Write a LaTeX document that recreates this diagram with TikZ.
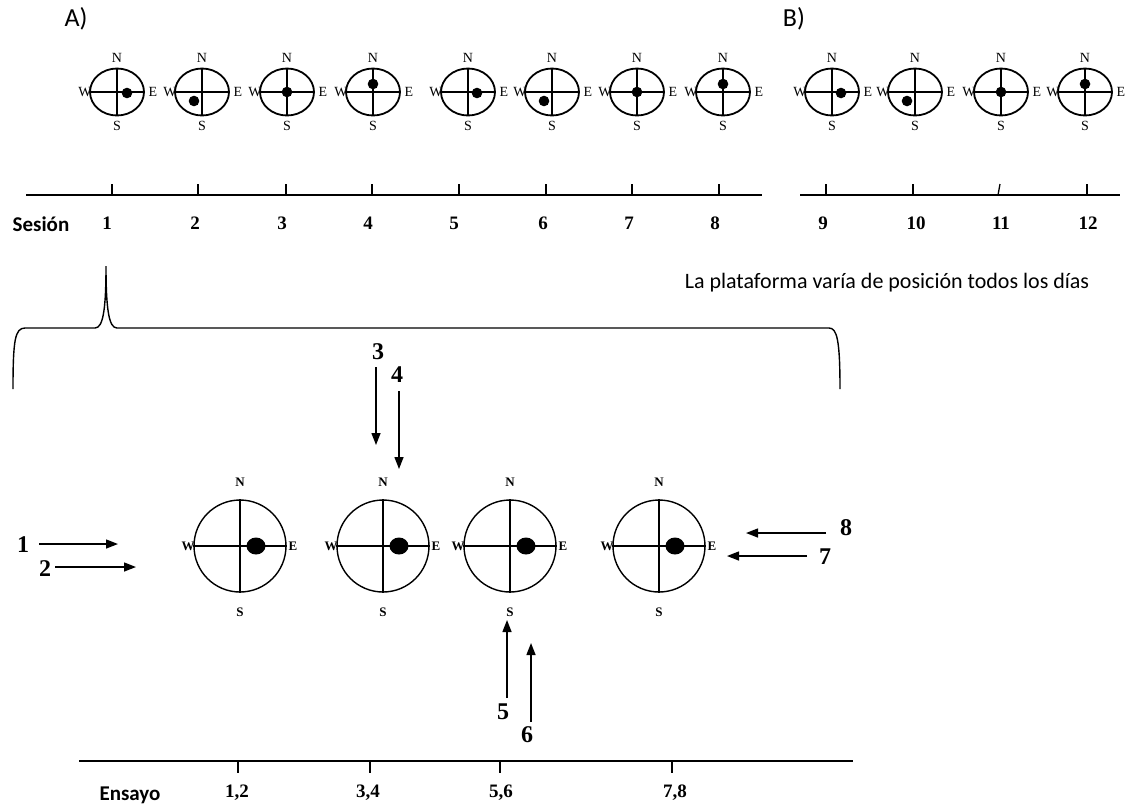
\documentclass[tikz,border=0pt]{standalone}
\usepackage{fontspec}
\setmainfont{Liberation Serif}
\newfontfamily\calfont{Carlito}
\usetikzlibrary{shapes.geometric,arrows.meta}
\newcommand\scompass[4]{%
  \node[scomp] (#1) at (#2,92) {};
  \draw[sline] (#1.north) -- (#1.south) (#1.west) -- (#1.east);
  \fill ([shift={(#3,#4)}]#1.center) circle (5.3);
  \node[slab] (#1N) at (#2,58) {N};
  \node[slab] (#1S) at (#2,126) {S};
  \node[slab] (#1W) at (#2-32,92) {W};
  \node[slab] (#1E) at (#2+36,92) {E};
}
\newcommand\bcompass[2]{%
  \node[bcomp] (#1) at (#2,546) {};
  \draw[bline] (#1.north) -- (#1.south) (#1.west) -- (#1.east);
  \fill ([xshift=16pt]#1.center) ellipse [x radius=9.5, y radius=8.5];
  \node[blab] (#1N) at (#2,482) {N};
  \node[blab] (#1S) at (#2,612) {S};
  \node[blab] (#1W) at (#2-52,546) {W};
  \node[blab] (#1E) at (#2+53,546) {E};
}
\begin{document}
\begin{tikzpicture}[x=1pt,y=-1pt,
  scomp/.style={ellipse,draw,line width=1.8pt,minimum width=54pt,minimum height=47pt,inner sep=0pt},
  sline/.style={line width=1.8pt},
  bcomp/.style={circle,draw,line width=1.4pt,minimum size=92pt,inner sep=0pt},
  bline/.style={line width=1.4pt},
  slab/.style={font=\fontsize{14}{14}\selectfont,inner sep=0pt},
  blab/.style={font=\bfseries\fontsize{13}{13}\selectfont,inner sep=0pt},
  num/.style={font=\bfseries\fontsize{19}{19}\selectfont,inner sep=0pt},
  anum/.style={font=\bfseries\fontsize{24}{24}\selectfont,inner sep=0pt},
  sanslab/.style={font=\calfont\fontsize{22}{22}\selectfont,inner sep=0pt},
  sansbold/.style={font=\calfont\bfseries\fontsize{21}{21}\selectfont,inner sep=0pt},
  axis/.style={line width=1.5pt},
  tick/.style={line width=1.3pt},
  arr/.style={line width=1.4pt,-{Triangle[length=12pt,width=9pt]}},
  brace/.style={line width=1.4pt},
]
\useasboundingbox (0,0) rectangle (1126,807);

% headings
\node[font=\calfont\fontsize{26}{26}\selectfont,inner sep=0pt] (hA) at (76,19) {A)};
\node[font=\calfont\fontsize{26}{26}\selectfont,inner sep=0pt] (hB) at (794,19) {B)};

% small compasses
\scompass{c1}{117}{10}{1}
\scompass{c2}{202}{-8}{9}
\scompass{c3}{287}{0}{0}
\scompass{c4}{373}{0}{-8}
\scompass{c5}{468}{9}{1}
\scompass{c6}{552}{-8}{9}
\scompass{c7}{637}{0}{0}
\scompass{c8}{723}{0}{-8}
\scompass{c9}{832}{9}{1}
\scompass{c10}{915}{-8}{9}
\scompass{c11}{1001}{0}{0}
\scompass{c12}{1085}{0}{-8}

% session axis
\draw[axis] (26,195) -- (762,195);
\draw[axis] (800,195) -- (1120,195);
\foreach \t in {112,198,286,372,459,546,632,719,826,913,1087}
  \draw[tick] (\t,195) -- (\t,184);
\draw[tick] (998,195) -- (1000,184);
\node[sansbold] (ses) at (41,224) {Sesión};
\foreach \n/\x in {1/107,2/195,3/282,4/368,5/454,6/543,7/629,8/715,9/823,10/916,11/1001,12/1088}
  \node[num] (s\n) at (\x,223) {\n};

\node[sanslab] (plat) at (887,283) {La plataforma varía de posición todos los días};

% brace
\draw[brace] (13,389) .. controls (13,340) and (15,328) .. (25,328) -- (95,328)
  .. controls (103,328) and (106,310) .. (106,266)
  .. controls (106,310) and (109,328) .. (117,328) -- (829,328)
  .. controls (837,328) and (840,340) .. (840,389);

% big compasses
\bcompass{k1}{240}
\bcompass{k2}{383}
\bcompass{k3}{510}
\bcompass{k4}{659}

% trial arrows
\node[anum] (l1) at (23,545) {1};
\node[anum] (l2) at (45,569) {2};
\node[anum] (l3) at (378,352) {3};
\node[anum] (l4) at (397,375) {4};
\node[anum] (l5) at (503,712) {5};
\node[anum] (l6) at (527,735) {6};
\node[anum] (l7) at (825,557) {7};
\node[anum] (l8) at (846,528) {8};
\coordinate (a1) at (39,544);  \coordinate (b1) at (118,544);
\coordinate (a2) at (55,567);  \coordinate (b2) at (136,567);
\coordinate (a3) at (376,367); \coordinate (b3) at (376,445);
\coordinate (a4) at (399,391); \coordinate (b4) at (399,469);
\coordinate (a5) at (507,698); \coordinate (b5) at (507,620);
\coordinate (a6) at (531,722); \coordinate (b6) at (531,643);
\coordinate (a7) at (807,556); \coordinate (b7) at (727,556);
\coordinate (a8) at (826,533); \coordinate (b8) at (746,533);
\foreach \i in {1,...,8} \draw[arr] (a\i) -- (b\i);

% trial axis
\draw[axis] (79,761) -- (853,761);
\foreach \t in {238,370,500,672}
  \draw[tick] (\t,761) -- (\t,773);
\node[sansbold] (ens) at (130,795) {Ensayo};
\node[num] (t12) at (237,793) {1,2};
\node[num] (t34) at (368,793) {3,4};
\node[num] (t56) at (501,793) {5,6};
\node[num] (t78) at (675,793) {7,8};
\end{tikzpicture}
\end{document}
